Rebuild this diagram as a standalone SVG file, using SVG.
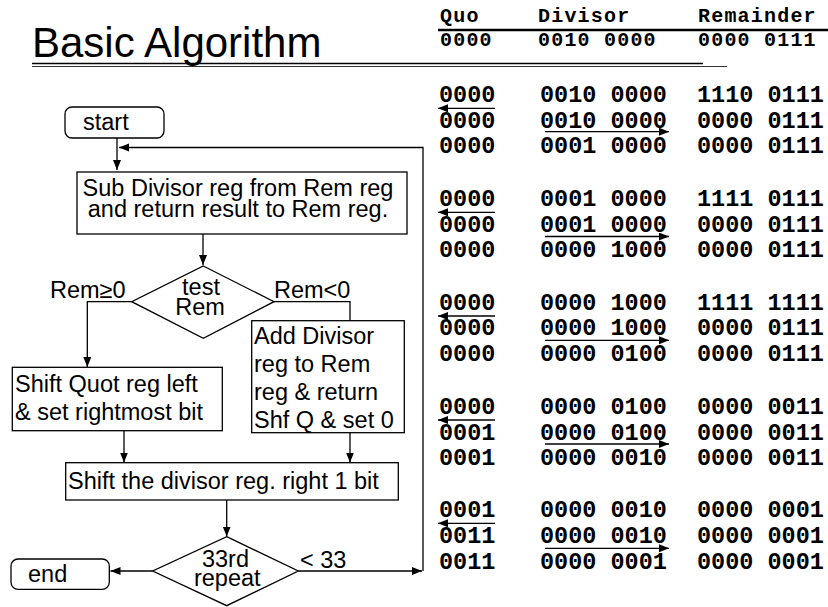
<svg xmlns="http://www.w3.org/2000/svg" width="828" height="607" viewBox="0 0 828 607">
<style>
.t{font-family:"Liberation Sans",Arial,sans-serif;font-size:23.5px;fill:#000}
.m{font-family:"Liberation Mono","Courier New",monospace;font-weight:bold;font-size:23.5px;fill:#000}
.h{font-family:"Liberation Mono","Courier New",monospace;font-weight:bold;font-size:20px;letter-spacing:1.2px;fill:#000}
.b{fill:#fff;stroke:#000;stroke-width:1.3}
.c{fill:none;stroke:#000;stroke-width:1.3}
</style>
<defs>
<marker id="ah" markerUnits="userSpaceOnUse" markerWidth="11" markerHeight="9" refX="10" refY="4" orient="auto">
<path d="M0,0 L10,4 L0,8 z" fill="#000"/>
</marker>
</defs>
<rect width="828" height="607" fill="#fff"/>
<g id="title">
<text x="32" y="57" font-family="Liberation Sans,Arial,sans-serif" font-size="42">Basic Algorithm</text>
<line x1="32" y1="63.5" x2="703" y2="63.5" stroke="#000" stroke-width="1.5"/>
<line x1="32" y1="66.5" x2="727" y2="66.5" stroke="#333" stroke-width="1"/>
</g>
<g id="connectors">
<path class="c" d="M117,138 V170" marker-end="url(#ah)"/>
<path class="c" d="M203,234 V265" marker-end="url(#ah)"/>
<path class="c" d="M131.7,301.7 H87.3 V367" marker-end="url(#ah)"/>
<path class="c" d="M274,301.7 H350 V320.7"/>
<path class="c" d="M124,430.7 V462.5" marker-end="url(#ah)"/>
<path class="c" d="M350,432.7 V462.5" marker-end="url(#ah)"/>
<path class="c" d="M226.7,500 V536.5" marker-end="url(#ah)"/>
<path class="c" d="M152.7,571 H110.5" marker-end="url(#ah)"/>
<path class="c" d="M298.3,571 H422" marker-end="url(#ah)"/>
<path class="c" d="M423,571 V147.5 H119" marker-end="url(#ah)"/>
</g>
<g id="start">
<rect class="b" x="65" y="107" width="99" height="31" rx="7"/>
<text class="t" x="83" y="130">start</text>
</g>
<g id="sub">
<rect class="b" x="77" y="172" width="330" height="62"/>
<text class="t" x="238" y="196" text-anchor="middle">Sub Divisor reg from Rem reg</text>
<text class="t" x="238" y="217" text-anchor="middle">and return result to Rem reg.</text>
</g>
<g id="testRem">
<polygon class="b" points="203.3,266 274,301.7 203.3,338.3 131.7,301.7"/>
<text class="t" x="201" y="295" text-anchor="middle">test</text>
<text class="t" x="200" y="315" text-anchor="middle">Rem</text>
</g>
<g id="labels">
<text class="t" x="50" y="298">Rem≥0</text>
<text class="t" x="274" y="298">Rem&lt;0</text>
<text class="t" x="300" y="567.5">&lt; 33</text>
</g>
<g id="shiftQuot">
<rect class="b" x="12.3" y="367.3" width="210" height="63.4"/>
<text class="t" x="15" y="391.7">Shift Quot reg left</text>
<text class="t" x="15" y="420">&amp; set rightmost bit</text>
</g>
<g id="addDivisor">
<rect class="b" x="251.7" y="320.7" width="152.6" height="112"/>
<text class="t" x="254" y="344">Add Divisor</text>
<text class="t" x="254" y="372">reg to Rem</text>
<text class="t" x="254" y="400">reg &amp; return</text>
<text class="t" x="254" y="428">Shf Q &amp; set 0</text>
</g>
<g id="shiftDiv">
<rect class="b" x="65.7" y="462.7" width="332.6" height="37.3"/>
<text class="t" x="68" y="489">Shift the divisor reg. right 1 bit</text>
</g>
<g id="repeat">
<polygon class="b" points="226.7,536.7 298.3,571 226.7,605.7 152.7,571"/>
<text class="t" x="225.5" y="566.7" text-anchor="middle">33rd</text>
<text class="t" x="227.3" y="586" text-anchor="middle">repeat</text>
</g>
<g id="end">
<rect class="b" x="11" y="559" width="98.3" height="30.3" rx="7"/>
<text class="t" x="28" y="581.7">end</text>
</g>
<g id="table">
<text class="h" y="22"><tspan x="440">Quo</tspan><tspan x="538">Divisor</tspan><tspan x="698">Remainder</tspan></text>
<line x1="438" y1="30" x2="828" y2="30" stroke="#000" stroke-width="2.5"/>
<text class="h" y="46" xml:space="preserve"><tspan x="440">0000</tspan><tspan x="538">0010 0000</tspan><tspan x="698">0000 0111</tspan></text>

<text class="m" y="102"><tspan x="439">0000</tspan><tspan x="540">0010 0000</tspan><tspan x="697">1110 0111</tspan></text>
<text class="m" y="127.5"><tspan x="439">0000</tspan><tspan x="540">0010 0000</tspan><tspan x="697">0000 0111</tspan></text>
<text class="m" y="153"><tspan x="439">0000</tspan><tspan x="540">0001 0000</tspan><tspan x="697">0000 0111</tspan></text>

<text class="m" y="206"><tspan x="439">0000</tspan><tspan x="540">0001 0000</tspan><tspan x="697">1111 0111</tspan></text>
<text class="m" y="231.5"><tspan x="439">0000</tspan><tspan x="540">0001 0000</tspan><tspan x="697">0000 0111</tspan></text>
<text class="m" y="257"><tspan x="439">0000</tspan><tspan x="540">0000 1000</tspan><tspan x="697">0000 0111</tspan></text>

<text class="m" y="310"><tspan x="439">0000</tspan><tspan x="540">0000 1000</tspan><tspan x="697">1111 1111</tspan></text>
<text class="m" y="335"><tspan x="439">0000</tspan><tspan x="540">0000 1000</tspan><tspan x="697">0000 0111</tspan></text>
<text class="m" y="360.5"><tspan x="439">0000</tspan><tspan x="540">0000 0100</tspan><tspan x="697">0000 0111</tspan></text>

<text class="m" y="414"><tspan x="439">0000</tspan><tspan x="540">0000 0100</tspan><tspan x="697">0000 0011</tspan></text>
<text class="m" y="440"><tspan x="439">0001</tspan><tspan x="540">0000 0100</tspan><tspan x="697">0000 0011</tspan></text>
<text class="m" y="465"><tspan x="439">0001</tspan><tspan x="540">0000 0010</tspan><tspan x="697">0000 0011</tspan></text>

<text class="m" y="517"><tspan x="439">0001</tspan><tspan x="540">0000 0010</tspan><tspan x="697">0000 0001</tspan></text>
<text class="m" y="543"><tspan x="439">0011</tspan><tspan x="540">0000 0010</tspan><tspan x="697">0000 0001</tspan></text>
<text class="m" y="569"><tspan x="439">0011</tspan><tspan x="540">0000 0001</tspan><tspan x="697">0000 0001</tspan></text>

<g class="c">
<path d="M495,108.3 H438" marker-end="url(#ah)"/>
<path d="M545,131.7 H669" marker-end="url(#ah)"/>
<path d="M495,212.3 H438" marker-end="url(#ah)"/>
<path d="M545,236.5 H669" marker-end="url(#ah)"/>
<path d="M495,316 H438" marker-end="url(#ah)"/>
<path d="M545,340.3 H669" marker-end="url(#ah)"/>
<path d="M495,420 H438" marker-end="url(#ah)"/>
<path d="M545,444 H669" marker-end="url(#ah)"/>
<path d="M495,523.3 H438" marker-end="url(#ah)"/>
<path d="M545,548.3 H669" marker-end="url(#ah)"/>
</g>
</g>
</svg>
